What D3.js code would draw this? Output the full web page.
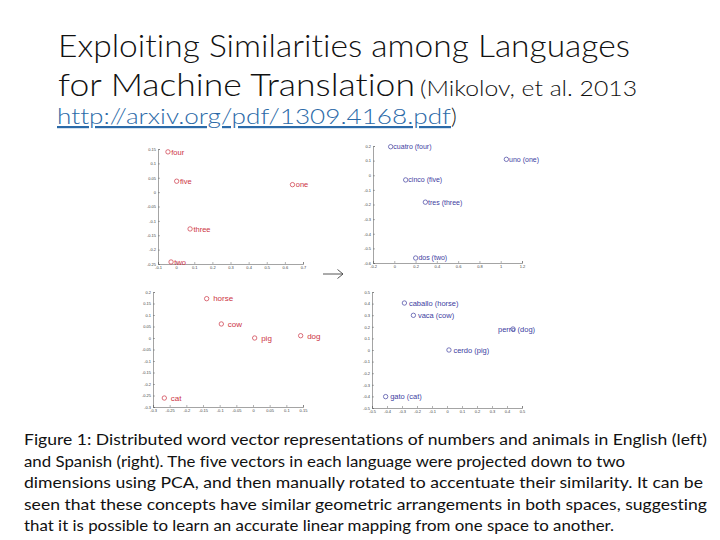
<!DOCTYPE html>
<html>
<head>
<meta charset="utf-8">
<script src="https://cdn.jsdelivr.net/npm/d3@7"></script>
<style>
  html, body { margin: 0; padding: 0; background: #fff; }
  svg { display: block; }
  text { font-variant-ligatures: none; }
</style>
</head>
<body>
<svg id="slide" width="720" height="540"></svg>
<script>
// ---- data ----
const numEnWords = ['four', 'five', 'one', 'three', 'two']
const numEnX = [-0.045, 0.003, 0.642, 0.077, -0.028]
const numEnY = [0.140, 0.038, 0.026, -0.128, -0.243]

const numEsWords = ['cuatro (four)', 'uno (one)', 'cinco (five)', 'tres (three)', 'dos (two)']
const numEsX = [-0.034, 1.053, 0.107, 0.292, 0.201]
const numEsY = [0.195, 0.109, -0.032, -0.184, -0.566]

const aniEnWords = ['horse', 'cow', 'pig', 'dog', 'cat']
const aniEnX = [-0.139, -0.095, 0.005, 0.143, -0.266]
const aniEnY = [0.171, 0.061, 0.000, 0.010, -0.261]

const aniEsWords = ['caballo (horse)', 'vaca (cow)', 'perro (dog)', 'cerdo (pig)', 'gato (cat)']
const aniEsX = [-0.284, -0.224, 0.440, 0.013, -0.409]
const aniEsY = [0.405, 0.299, 0.181, 0.000, -0.402]

const numEnXTicks = [-0.1, 0, 0.1, 0.2, 0.3, 0.4, 0.5, 0.6, 0.7]
const numEnYTicks = [-0.25, -0.2, -0.15, -0.1, -0.05, 0, 0.05, 0.1, 0.15]
const numEsXTicks = [-0.2, 0, 0.2, 0.4, 0.6, 0.8, 1, 1.2]
const numEsYTicks = [-0.6, -0.5, -0.4, -0.3, -0.2, -0.1, 0, 0.1, 0.2]
const aniEnXTicks = [-0.3, -0.25, -0.2, -0.15, -0.1, -0.05, 0, 0.05, 0.1, 0.15]
const aniEnYTicks = [-0.3, -0.25, -0.2, -0.15, -0.1, -0.05, 0, 0.05, 0.1, 0.15, 0.2]
const aniEsXTicks = [-0.5, -0.4, -0.3, -0.2, -0.1, 0, 0.1, 0.2, 0.3, 0.4, 0.5]
const aniEsYTicks = [-0.5, -0.4, -0.3, -0.2, -0.1, 0, 0.1, 0.2, 0.3, 0.4, 0.5]

const titleLine1 = 'Exploiting Similarities among Languages'
const titleLine2 = 'for Machine Translation'
const titleCite = '(Mikolov, et al. 2013'
const titleLink = 'http://arxiv.org/pdf/1309.4168.pdf'
const captionLines = [
  'Figure 1: Distributed word vector representations of numbers and animals in English (left)',
  'and Spanish (right). The five vectors in each language were projected down to two',
  'dimensions using PCA, and then manually rotated to accentuate their similarity. It can be',
  'seen that these concepts have similar geometric arrangements in both spaces, suggesting',
  'that it is possible to learn an accurate linear mapping from one space to another.'
]

// ---- layout ----
const RED = '#cc3344'
const BLUE = '#40409f'
const slideFont = 'Lato, "Open Sans", sans-serif'
const plotFont = '"Liberation Sans", Arial, sans-serif'

// the perro label sits over its own marker in the original
const labelShift = { 'perro (dog)': -15 }

const panels = [
  { words: numEnWords, xs: numEnX, ys: numEnY, xt: numEnXTicks, yt: numEnYTicks,
    color: RED, fs: 7.5, left: 158, right: 303, top: 149, bottom: 264, gap: 3.3 },
  { words: numEsWords, xs: numEsX, ys: numEsY, xt: numEsXTicks, yt: numEsYTicks,
    color: BLUE, fs: 7, left: 373, right: 522, top: 146, bottom: 263, gap: 2.7 },
  { words: aniEnWords, xs: aniEnX, ys: aniEnY, xt: aniEnXTicks, yt: aniEnYTicks,
    color: RED, fs: 8, left: 153, right: 303, top: 292, bottom: 407, gap: 6.5 },
  { words: aniEsWords, xs: aniEsX, ys: aniEsY, xt: aniEsXTicks, yt: aniEsYTicks,
    color: BLUE, fs: 7.5, left: 372, right: 522, top: 292, bottom: 408, gap: 4.5 }
]

const svg = d3.select('#slide')
svg.append('rect').attr('width', 720).attr('height', 540).attr('fill', '#fff')

// ---- title ----
const title = svg.append('g').attr('font-family', slideFont).attr('fill', '#111')
  .attr('font-weight', 300)
title.append('text').attr('x', 58).attr('y', 57).attr('font-size', 32)
  .attr('textLength', 572).attr('lengthAdjust', 'spacingAndGlyphs').text(titleLine1)
title.append('text').attr('x', 58).attr('y', 96).attr('font-size', 32)
  .attr('textLength', 357).attr('lengthAdjust', 'spacingAndGlyphs').text(titleLine2)
title.append('text').attr('x', 420).attr('y', 96).attr('font-size', 22)
  .attr('textLength', 217).attr('lengthAdjust', 'spacingAndGlyphs').text(titleCite)
title.append('text').attr('x', 57).attr('y', 124).attr('font-size', 22)
  .attr('fill', '#2b6aa8').attr('text-decoration', 'underline')
  .attr('textLength', 394).attr('lengthAdjust', 'spacingAndGlyphs').text(titleLink)
title.append('text').attr('x', 451).attr('y', 124).attr('font-size', 22).text(')')

// ---- panels ----
const tickFmt = d => String(+d.toFixed(2))

panels.forEach(p => {
  const x = d3.scaleLinear().domain(d3.extent(p.xt)).range([p.left, p.right])
  const y = d3.scaleLinear().domain(d3.extent(p.yt)).range([p.bottom, p.top])
  const g = svg.append('g')

  const xAxis = g.append('g')
    .attr('transform', `translate(0,${p.bottom})`)
    .call(d3.axisBottom(x).tickValues(p.xt).tickFormat(tickFmt).tickSize(-2).tickPadding(2))
  const yAxis = g.append('g')
    .attr('transform', `translate(${p.left},0)`)
    .call(d3.axisLeft(y).tickValues(p.yt).tickFormat(tickFmt).tickSize(-2).tickPadding(2))

  ;[xAxis, yAxis].forEach(a => {
    a.selectAll('path.domain').attr('stroke', '#666').attr('stroke-width', 0.6)
    a.selectAll('.tick line').attr('stroke', '#666').attr('stroke-width', 0.5)
    a.selectAll('.tick text').attr('font-size', 4).attr('font-family', plotFont).attr('fill', '#444')
  })
  xAxis.selectAll('.tick text').attr('dy', '0.8em')

  const pts = p.words.map((w, i) => ({ w, x: p.xs[i], y: p.ys[i] }))
  const node = g.selectAll('g.pt').data(pts).enter().append('g').attr('class', 'pt')
  node.append('circle')
    .attr('cx', d => x(d.x)).attr('cy', d => y(d.y)).attr('r', 2.2)
    .attr('fill', 'none').attr('stroke', p.color).attr('stroke-width', 0.7)
  node.append('text')
    .attr('x', d => x(d.x) + (labelShift[d.w] !== undefined ? labelShift[d.w] : p.gap))
    .attr('y', d => y(d.y))
    .attr('dy', '0.35em')
    .attr('font-size', p.fs).attr('font-family', plotFont).attr('fill', p.color)
    .text(d => d.w)
})

// arrow between the two languages
svg.append('path')
  .attr('d', 'M323,274 H343 M337.5,269.5 L343,274 L337.5,278.5')
  .attr('fill', 'none').attr('stroke', '#444').attr('stroke-width', 0.9)

// ---- caption ----
const captionWidths = [683, 601, 679, 683, 590]
svg.append('g').attr('font-family', slideFont).attr('fill', '#111').attr('font-size', 16)
  .selectAll('text').data(captionLines).enter().append('text')
  .attr('x', 24)
  .attr('y', (d, i) => 445 + i * 21.5)
  .attr('textLength', (d, i) => captionWidths[i])
  .attr('lengthAdjust', 'spacingAndGlyphs')
  .text(d => d)
</script>
</body>
</html>
